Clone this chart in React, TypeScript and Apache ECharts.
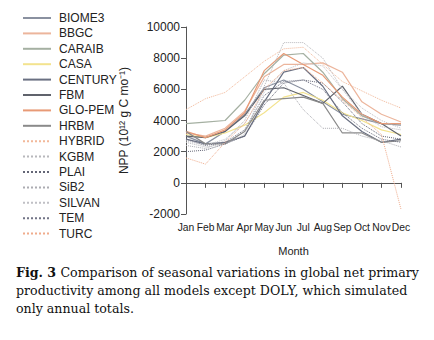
import React, { useEffect, useRef } from "react";
import * as echarts from "echarts";

const months = ["Jan", "Feb", "Mar", "Apr", "May", "Jun", "Jul", "Aug", "Sep", "Oct", "Nov", "Dec"];
const yTicks = { min: -2000, max: 10000, interval: 2000 };

const biome3 = [3000, 2500, 3300, 4400, 6100, 6600, 6000, 5200, 4400, 4100, 3800, 3700];
const bbgc = [3200, 3000, 3500, 4600, 6800, 7600, 7600, 7700, 7100, 5200, 4400, 3900];
const caraib = [3800, 3900, 4000, 5300, 7000, 8200, 8300, 7100, 5400, 4300, 3800, 3800];
const casa = [3100, 2900, 3200, 3700, 4500, 5500, 5800, 5300, 4500, 4000, 3400, 3100];
const century = [2800, 2500, 2600, 3000, 5200, 7100, 7400, 6200, 4300, 3300, 2600, 2800];
const fbm = [3000, 2900, 3300, 4300, 6000, 6100, 5600, 5100, 6200, 4400, 3800, 3000];
const glopem = [3300, 2900, 3400, 4500, 7200, 8300, 7600, 6900, 5500, 4400, 3800, 3800];
const hrbm = [3300, 2500, 2500, 3300, 5300, 5400, 5500, 5100, 3200, 3200, 2600, 2700];
const hybrid = [4700, 5400, 5800, 6800, 7800, 8600, 8700, 7600, 6500, 5900, 5300, 4800];
const kgbm = [2600, 2300, 2500, 3100, 6200, 9000, 9000, 8000, 6000, 4400, 3600, 3400];
const plai = [2000, 2100, 2500, 3000, 5000, 6400, 6600, 6400, 5200, 3800, 3000, 2800];
const sib2 = [2400, 2200, 2700, 4000, 6600, 6400, 4700, 3500, 3500, 3000, 2700, 2300];
const silvan = [2700, 2400, 2800, 3800, 5800, 7200, 7700, 7500, 6000, 4800, 4000, 3500];
const tem = [2800, 2400, 2600, 3400, 5600, 6500, 6600, 6000, 4500, 3500, 2800, 2600];
const turc = [1600, 1200, 2600, 3800, 6000, 7200, 7400, 6400, 5300, 4200, 3100, -1700];

const captionLines = [
  "Comparison of seasonal variations in global net primary",
  "productivity among all models except DOLY, which simulated",
  "only annual totals.",
];
const captionLabel = "Fig. 3";

const seriesDefs: [string, number[], string, string][] = [
  ["BIOME3", biome3, "#8a91a0", "solid"],
  ["BBGC", bbgc, "#ecb59c", "solid"],
  ["CARAIB", caraib, "#a5b0a2", "solid"],
  ["CASA", casa, "#f3e38e", "solid"],
  ["CENTURY", century, "#6a7082", "solid"],
  ["FBM", fbm, "#60636c", "solid"],
  ["GLO-PEM", glopem, "#e89a76", "solid"],
  ["HRBM", hrbm, "#8a8a8a", "solid"],
  ["HYBRID", hybrid, "#f2b899", "dotted"],
  ["KGBM", kgbm, "#b8b8bc", "dotted"],
  ["PLAI", plai, "#646676", "dotted"],
  ["SiB2", sib2, "#acacb2", "dotted"],
  ["SILVAN", silvan, "#c0c0c5", "dotted"],
  ["TEM", tem, "#727486", "dotted"],
  ["TURC", turc, "#f0ac8c", "dotted"],
];

export default function App() {
  const ref = useRef<HTMLDivElement>(null);
  useEffect(() => {
    document.body.style.margin = "0";
    const chart = echarts.init(ref.current!, null, { renderer: "svg" });
    const font = "Liberation Sans, Arial, Helvetica, sans-serif";
    const serif = "DejaVu Serif, serif";
    const capFont = `12.6px ${serif}`;
    const capBold = `bold 12.6px ${serif}`;
    const ctx = document.createElement("canvas").getContext("2d")!;
    ctx.font = capBold;
    const labelW = ctx.measureText(captionLabel + " ").width;
    chart.setOption({
      animation: false,
      backgroundColor: "#ffffff",
      textStyle: { fontFamily: font },
      legend: {
        orient: "vertical",
        left: 17,
        top: 7,
        itemWidth: 28,
        itemHeight: 10,
        itemGap: 3.4,
        itemStyle: { opacity: 0 },
        textStyle: { fontSize: 12, color: "#222", fontFamily: font, padding: [0, 0, 0, 3], lineHeight: 12 },
        data: seriesDefs.map((s) => s[0]),
      },
      grid: { left: 186, right: 33, top: 27, bottom: 126 },
      xAxis: {
        type: "category",
        data: months,
        boundaryGap: false,
        name: "Month",
        nameLocation: "middle",
        nameGap: 31,
        nameTextStyle: { fontSize: 11, color: "#222", fontFamily: font },
        axisLine: { lineStyle: { color: "#555", width: 1 } },
        axisTick: { show: true, length: 5, lineStyle: { color: "#555" } },
        axisLabel: { interval: 0, fontSize: 10.3, color: "#222", margin: 8, fontFamily: font },
        splitLine: { show: false },
      },
      yAxis: {
        type: "value",
        min: yTicks.min,
        max: yTicks.max,
        interval: yTicks.interval,
        name: "NPP (10¹² g C mo⁻¹)",
        nameLocation: "middle",
        nameRotate: 90,
        nameGap: 56,
        nameTextStyle: { fontSize: 12, color: "#222", fontFamily: font },
        axisLine: { show: true, lineStyle: { color: "#555", width: 1 } },
        axisTick: { show: true, length: 5, lineStyle: { color: "#555" } },
        axisLabel: { fontSize: 12, color: "#222", margin: 6, fontFamily: font, formatter: (v: number) => String(v) },
        splitLine: { show: false },
      },
      series: seriesDefs.map(([name, data, color, type]) => ({
        name,
        type: "line",
        data,
        symbol: "none",
        color,
        itemStyle: { color, opacity: 0 },
        lineStyle: { color, width: type === "solid" ? 1.2 : 1, type, opacity: 1 },
      })),
      graphic: [
        {
          type: "text",
          left: 16,
          top: 266,
          style: { text: captionLabel, font: capBold, fill: "#111" },
        },
        {
          type: "text",
          left: 16 + labelW,
          top: 266,
          style: { text: captionLines[0], font: capFont, fill: "#111" },
        },
        {
          type: "text",
          left: 16,
          top: 284,
          style: { text: captionLines[1], font: capFont, fill: "#111" },
        },
        {
          type: "text",
          left: 16,
          top: 302,
          style: { text: captionLines[2], font: capFont, fill: "#111" },
        },
      ],
    });
    return () => chart.dispose();
  }, []);
  return <div ref={ref} style={{ position: "fixed", left: 0, top: 0, width: 434, height: 340 }} />;
}
